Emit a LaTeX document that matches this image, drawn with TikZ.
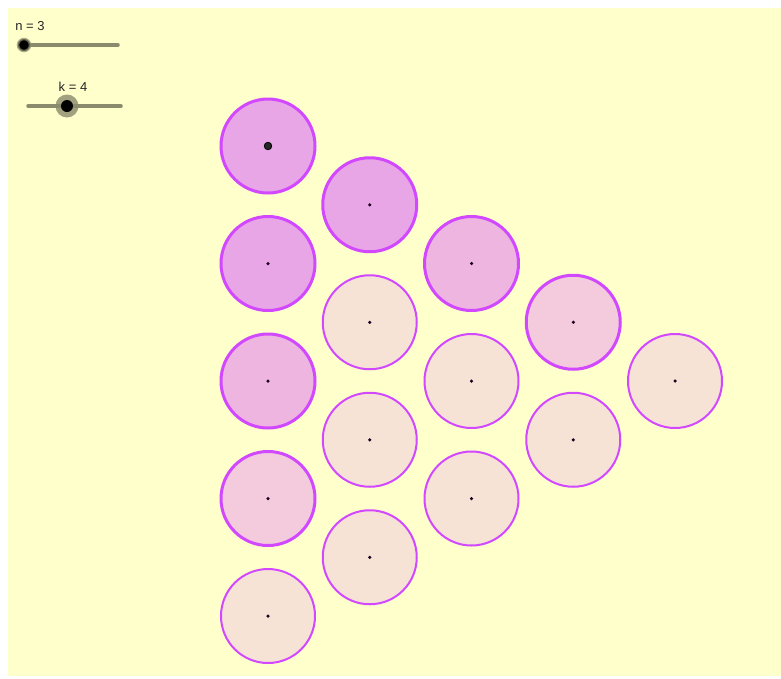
\documentclass[tikz,border=0pt]{standalone}
\usepackage{fontspec}
\setmainfont{Liberation Sans}

\definecolor{sheet}{RGB}{255,255,204}
\definecolor{ringcol}{RGB}{210,72,255}
\definecolor{fillA}{RGB}{233,166,230}
\definecolor{fillB}{RGB}{238,181,224}
\definecolor{fillC}{RGB}{243,203,221}
\definecolor{fillD}{RGB}{247,226,214}
\definecolor{railcol}{RGB}{138,138,108}

\tikzset{
  disc/.style={circle, draw=ringcol, minimum size=94pt, inner sep=0pt},
  dot/.style={circle, fill=black!75!violet, minimum size=3.5pt, inner sep=0pt},
  rail/.style={draw=railcol, line width=3.5pt, line cap=round},
  knob/.style={circle, fill=black, draw=railcol, draw opacity=0.7, inner sep=0pt},
  slabel/.style={font=\fontsize{13}{15}\selectfont, text=black!85}
}

\begin{document}
\begin{tikzpicture}[x=1pt, y=-1pt]

  % Frame and yellow sheet
  \useasboundingbox (0,0) rectangle (781,678);
  \fill[sheet] (8,8) rectangle (781,676);

  % Slider n
  \coordinate (n-a) at (24,45);
  \coordinate (n-b) at (118,45);
  \draw[rail] (n-a) -- (n-b);
  \node[knob, minimum size=12pt, line width=2.5pt] (n-knob) at (n-a) {};
  \node[slabel] (n-lab) at (30,26) {n = 3};

  % Slider k
  \coordinate (k-a) at (28,106);
  \coordinate (k-b) at (121,106);
  \draw[rail] (k-a) -- (k-b);
  \fill[railcol, opacity=0.8] (67,106) circle (11.5);
  \node[knob, minimum size=12pt, draw=none] (k-knob) at (67,106) {};
  \node[slabel] (k-lab) at (73,87) {k = 4};

  % Packed discs, column by column
  \foreach \c/\r/\f/\w in {1/1/fillA/3, 1/2/fillA/3, 1/3/fillB/3, 1/4/fillC/3, 1/5/fillD/2,
                           2/1/fillA/3, 2/2/fillD/2, 2/3/fillD/2, 2/4/fillD/2,
                           3/1/fillB/3, 3/2/fillD/2, 3/3/fillD/2,
                           4/1/fillC/3, 4/2/fillD/2,
                           5/1/fillD/2} {
    \pgfmathsetmacro{\xx}{268 + (\c-1)*101.75}
    \pgfmathsetmacro{\yy}{146 + (\c-1)*58.75 + (\r-1)*117.5}
    \node[disc, fill=\f, line width=\w pt] (c\c-\r) at (\xx,\yy) {};
    \node[dot] (p\c-\r) at (c\c-\r.center) {};
  }

  % Selected point
  \node[circle, fill=black!85, draw=black, line width=0.8pt, minimum size=7.5pt, inner sep=0pt] (sel) at (c1-1.center) {};

\end{tikzpicture}
\end{document}
